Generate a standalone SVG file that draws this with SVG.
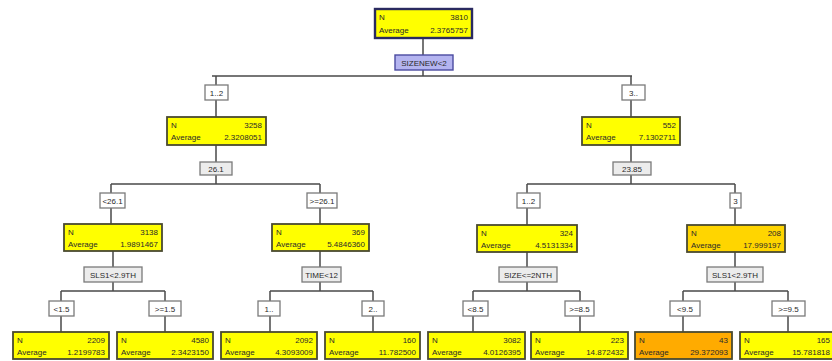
<svg xmlns="http://www.w3.org/2000/svg" width="832" height="361" viewBox="0 0 832 361">
<style>
.n{stroke:#4a4a30;stroke-width:1.8}
.y{fill:#ffff00}
.g{fill:#ffd500}
.o{fill:#ffab00}
.t{font-family:"Liberation Sans",Arial,sans-serif;font-size:8px;fill:#2a2a2a}
.r{text-anchor:end}
.c{text-anchor:middle}
.lb{fill:#ffffff;stroke:#7a7a7a;stroke-width:1.3}
.sp{fill:#ececec;stroke:#7a7a7a;stroke-width:1.3}
.con{stroke:#4a4a4a;stroke-width:1.5;fill:none}
</style>
<rect width="832" height="361" fill="#ffffff"/>
<g id="connectors">
<path class="con" d="M423 38V55M423 70V76M212 76H632M216 76V85M216 100V117M216 145V162M216 175V184M631 76V85M631 100V117M631 145V162M631 175V184"/>
<path class="con" d="M111 184H320M527 184H735M111 184V224M320 184V224M527 184V225M735 184V225"/>
<path class="con" d="M113 251V267M113 282V291M320 251V267M320 282V291M527 252V267M527 282V291M735 252V267M735 282V291"/>
<path class="con" d="M61 291H165M270 291H373M473 291H580M683 291H788"/>
<path class="con" d="M61 291V332M165 291V332M270 291V332M373 291V332M473 291V332M580 291V332M683 291V332M788 291V332"/>
</g>
<g id="root">
<rect x="375" y="9" width="97" height="29" class="y" stroke="#2a2a60" stroke-width="2.4"/>
<text class="t" x="379" y="20">N</text><text class="t r" x="468" y="20">3810</text>
<text class="t" x="379" y="33">Average</text><text class="t r" x="468" y="33">2.3765757</text>
</g>
<g id="split-root">
<rect x="395" y="55" width="58" height="15" fill="#b4b4f0" stroke="#4a4aa0" stroke-width="1.4"/>
<text class="t c" x="424" y="65.5">SIZENEW&lt;2</text>
</g>
<g id="e1l"><rect class="lb" x="205" y="85" width="23" height="15"/><text class="t c" x="216.5" y="95.5">1..2</text></g>
<g id="e1r"><rect class="lb" x="622" y="85" width="23" height="15"/><text class="t c" x="633.5" y="95.5">3..</text></g>
<g id="n1l">
<rect x="167" y="117" width="99" height="28" class="n y"/>
<text class="t" x="171" y="128">N</text><text class="t r" x="262" y="128">3258</text>
<text class="t" x="171" y="140">Average</text><text class="t r" x="262" y="140">2.3208051</text>
</g>
<g id="n1r">
<rect x="582" y="117" width="98" height="28" class="n y"/>
<text class="t" x="586" y="128">N</text><text class="t r" x="676" y="128">552</text>
<text class="t" x="586" y="140">Average</text><text class="t r" x="676" y="140">7.1302711</text>
</g>
<g id="s1l"><rect class="sp" x="200" y="162" width="32" height="13"/><text class="t c" x="216" y="171.5">26.1</text></g>
<g id="s1r"><rect class="sp" x="613" y="162" width="38" height="13"/><text class="t c" x="632" y="171.5">23.85</text></g>
<g id="e2a"><rect class="lb" x="100" y="193" width="25" height="15"/><text class="t c" x="112.5" y="203.5">&lt;26.1</text></g>
<g id="e2b"><rect class="lb" x="307" y="193" width="30" height="15"/><text class="t c" x="322" y="203.5">&gt;=26.1</text></g>
<g id="e2c"><rect class="lb" x="517" y="193" width="23" height="15"/><text class="t c" x="528.5" y="203.5">1..2</text></g>
<g id="e2d"><rect class="lb" x="730" y="193" width="11" height="15"/><text class="t c" x="735.5" y="203.5">3</text></g>
<g id="n2a">
<rect x="64" y="224" width="98" height="27" class="n y"/>
<text class="t" x="68" y="235">N</text><text class="t r" x="158" y="235">3138</text>
<text class="t" x="68" y="247">Average</text><text class="t r" x="158" y="247">1.9891467</text>
</g>
<g id="n2b">
<rect x="272" y="224" width="97" height="27" class="n y"/>
<text class="t" x="276" y="235">N</text><text class="t r" x="365" y="235">369</text>
<text class="t" x="276" y="247">Average</text><text class="t r" x="365" y="247">5.4846360</text>
</g>
<g id="n2c">
<rect x="477" y="225" width="100" height="27" class="n y"/>
<text class="t" x="481" y="236">N</text><text class="t r" x="573" y="236">324</text>
<text class="t" x="481" y="248">Average</text><text class="t r" x="573" y="248">4.5131334</text>
</g>
<g id="n2d">
<rect x="687" y="225" width="98" height="27" class="n g"/>
<text class="t" x="691" y="236">N</text><text class="t r" x="781" y="236">208</text>
<text class="t" x="691" y="248">Average</text><text class="t r" x="781" y="248">17.999197</text>
</g>
<g id="s2a"><rect class="sp" x="84" y="267" width="58" height="15"/><text class="t c" x="113" y="277.5">SLS1&lt;2.9TH</text></g>
<g id="s2b"><rect class="sp" x="302" y="267" width="39" height="15"/><text class="t c" x="321.5" y="277.5">TIME&lt;12</text></g>
<g id="s2c"><rect class="sp" x="499" y="267" width="58" height="15"/><text class="t c" x="528" y="277.5">SIZE&lt;=2NTH</text></g>
<g id="s2d"><rect class="sp" x="707" y="267" width="56" height="15"/><text class="t c" x="735" y="277.5">SLS1&lt;2.9TH</text></g>
<g id="e3a"><rect class="lb" x="49" y="301" width="25" height="15"/><text class="t c" x="61.5" y="311.5">&lt;1.5</text></g>
<g id="e3b"><rect class="lb" x="149" y="301" width="32" height="15"/><text class="t c" x="165" y="311.5">&gt;=1.5</text></g>
<g id="e3c"><rect class="lb" x="258" y="301" width="22" height="15"/><text class="t c" x="269" y="311.5">1..</text></g>
<g id="e3d"><rect class="lb" x="362" y="301" width="22" height="15"/><text class="t c" x="373" y="311.5">2..</text></g>
<g id="e3e"><rect class="lb" x="463" y="301" width="25" height="15"/><text class="t c" x="475.5" y="311.5">&lt;8.5</text></g>
<g id="e3f"><rect class="lb" x="565" y="301" width="29" height="15"/><text class="t c" x="579.5" y="311.5">&gt;=8.5</text></g>
<g id="e3g"><rect class="lb" x="670" y="301" width="30" height="15"/><text class="t c" x="685" y="311.5">&lt;9.5</text></g>
<g id="e3h"><rect class="lb" x="772" y="301" width="33" height="15"/><text class="t c" x="788.5" y="311.5">&gt;=9.5</text></g>
<g id="l1"><rect x="13" y="332" width="96" height="27" class="n y"/>
<text class="t" x="17" y="343">N</text><text class="t r" x="105" y="343">2209</text>
<text class="t" x="17" y="355">Average</text><text class="t r" x="105" y="355">1.2199783</text></g>
<g id="l2"><rect x="117" y="332" width="96" height="27" class="n y"/>
<text class="t" x="121" y="343">N</text><text class="t r" x="209" y="343">4580</text>
<text class="t" x="121" y="355">Average</text><text class="t r" x="209" y="355">2.3423150</text></g>
<g id="l3"><rect x="221" y="332" width="96" height="27" class="n y"/>
<text class="t" x="225" y="343">N</text><text class="t r" x="313" y="343">2092</text>
<text class="t" x="225" y="355">Average</text><text class="t r" x="313" y="355">4.3093009</text></g>
<g id="l4"><rect x="325" y="332" width="95" height="27" class="n y"/>
<text class="t" x="329" y="343">N</text><text class="t r" x="416" y="343">160</text>
<text class="t" x="329" y="355">Average</text><text class="t r" x="416" y="355">11.782500</text></g>
<g id="l5"><rect x="428" y="332" width="97" height="27" class="n y"/>
<text class="t" x="432" y="343">N</text><text class="t r" x="521" y="343">3082</text>
<text class="t" x="432" y="355">Average</text><text class="t r" x="521" y="355">4.0126395</text></g>
<g id="l6"><rect x="531" y="332" width="97" height="27" class="n y"/>
<text class="t" x="535" y="343">N</text><text class="t r" x="624" y="343">223</text>
<text class="t" x="535" y="355">Average</text><text class="t r" x="624" y="355">14.872432</text></g>
<g id="l7"><rect x="635" y="332" width="97" height="27" class="n o"/>
<text class="t" x="639" y="343">N</text><text class="t r" x="728" y="343">43</text>
<text class="t" x="639" y="355">Average</text><text class="t r" x="728" y="355">29.372093</text></g>
<g id="l8"><rect x="740" y="332" width="96" height="27" class="n y"/>
<text class="t" x="744" y="343">N</text><text class="t r" x="830" y="343">165</text>
<text class="t" x="744" y="355">Average</text><text class="t r" x="830" y="355">15.781818</text></g>
</svg>
